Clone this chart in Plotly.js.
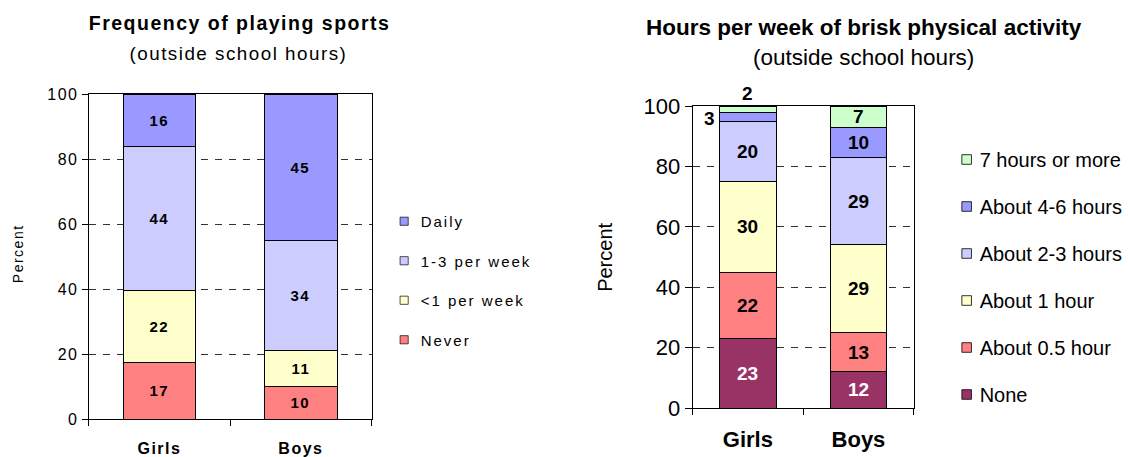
<!DOCTYPE html>
<html>
<head>
<meta charset="utf-8">
<script src="https://cdn.plot.ly/plotly-3.0.1.min.js"></script>
<style>
html,body{margin:0;padding:0;background:#fff;}
#chart{width:1128px;height:457px;}
</style>
</head>
<body>
<div id="chart"></div>
<script>
// ---------- data ----------
const categories = ['Girls', 'Boys'];

// Chart 1: Frequency of playing sports (percent)
const sportSeries = ['Never', '<1 per week', '1-3 per week', 'Daily'];
const sportNever  = [17.3, 10];
const sportLess1  = [22.2, 11];
const sport13     = [44.4, 34];
const sportDaily  = [16.1, 45];
const sportValues = [sportNever, sportLess1, sport13, sportDaily];
const sportColors = ['#FF8080', '#FFFFCC', '#CCCCFF', '#9999FF'];

// Chart 2: Hours per week of brisk physical activity (percent)
const actSeries = ['None', 'About 0.5 hour', 'About 1 hour', 'About 2-3 hours', 'About 4-6 hours', '7 hours or more'];
const actNone   = [23, 12];
const actHalf   = [22, 13];
const actOne    = [30, 29];
const actTwo3   = [20, 29];
const actFour6  = [3, 10];
const actSeven  = [2, 7];
const actValues = [actNone, actHalf, actOne, actTwo3, actFour6, actSeven];
const actColors = ['#993366', '#FF8080', '#FFFFCC', '#CCCCFF', '#9999FF', '#CCFFCC'];

// ---------- helpers ----------
const FONT = 'Liberation Sans, Arial, sans-serif';
const W = 1128, H = 457;
const px = v => v / W;
const py = v => 1 - v / H;

const traces = [];
const annotations = [];

sportSeries.forEach((name, i) => {
  traces.push({
    type: 'bar', name: name, x: categories, y: sportValues[i],
    xaxis: 'x', yaxis: 'y', legend: 'legend', legendgroup: 'a' + i,
    legendrank: sportSeries.length - i,
    marker: {color: sportColors[i], line: {color: '#000', width: 1}},
    textposition: 'none', hoverinfo: 'name+y'
  });
});
actSeries.forEach((name, i) => {
  traces.push({
    type: 'bar', name: name, x: categories, y: actValues[i],
    xaxis: 'x2', yaxis: 'y2', legend: 'legend2', legendgroup: 'b' + i,
    legendrank: actSeries.length - i,
    marker: {color: actColors[i], line: {color: '#000', width: 1}},
    textposition: 'none', hoverinfo: 'name+y'
  });
});

// data labels, left chart
let leftCount = 0;
categories.forEach((c, j) => {
  let base = 0;
  sportValues.forEach((vals, i) => {
    const v = vals[j];
    annotations.push({
      xref: 'x', yref: 'y', x: c, y: base + v / 2, xanchor: 'center', yanchor: 'middle',
      text: '<b>' + Math.round(v) + '</b>',
      showarrow: false, font: {family: FONT, size: 15, color: '#000'}
    });
    leftCount++;
    base += v;
  });
});
annotations.push({xref: 'paper', yref: 'paper', x: px(240), y: py(23), xanchor: 'center', yanchor: 'middle',
  text: '<b>Frequency of playing sports</b>', showarrow: false, font: {family: FONT, size: 19.5, color: '#000'}});
annotations.push({xref: 'paper', yref: 'paper', x: px(239), y: py(53), xanchor: 'center', yanchor: 'middle',
  text: '(outside school hours)', showarrow: false, font: {family: FONT, size: 18.8, color: '#000'}});
annotations.push({xref: 'paper', yref: 'paper', x: px(18), y: py(254), xanchor: 'center', yanchor: 'middle',
  text: 'Percent', textangle: -90, showarrow: false, font: {family: FONT, size: 14, color: '#000'}});
leftCount += 3;

// data labels, right chart
categories.forEach((c, j) => {
  let base = 0;
  actValues.forEach((vals, i) => {
    const v = vals[j];
    const isTop = i === actValues.length - 1;
    const a = {
      xref: 'x2', yref: 'y2', x: c, y: base + v / 2, xanchor: 'center', yanchor: 'middle',
      text: '<b>' + v + '</b>', showarrow: false,
      font: {family: FONT, size: 19, color: i === 0 ? '#fff' : '#000'}
    };
    if (v < 5 && isTop) { a.y = base + v; a.yanchor = 'bottom'; a.yshift = 0; }
    else if (v < 5) { a.xanchor = 'right'; a.xshift = -31; a.yshift = -2; }
    annotations.push(a);
    base += v;
  });
});
annotations.push({xref: 'paper', yref: 'paper', x: px(867), y: py(27), xanchor: 'center', yanchor: 'middle',
  text: '<b>Hours per week of brisk physical activity</b>', showarrow: false, font: {family: FONT, size: 22.5, color: '#000'}});
annotations.push({xref: 'paper', yref: 'paper', x: px(867), y: py(57), xanchor: 'center', yanchor: 'middle',
  text: '(outside school hours)', showarrow: false, font: {family: FONT, size: 22.5, color: '#000'}});
annotations.push({xref: 'paper', yref: 'paper', x: px(607), y: py(257), xanchor: 'center', yanchor: 'middle',
  text: 'Percent', textangle: -90, showarrow: false, font: {family: FONT, size: 20, color: '#000'}});

const xBase = {
  type: 'category', showline: true, linecolor: '#000', linewidth: 1, mirror: true,
  ticks: 'outside', tickson: 'boundaries', ticklen: 6, tickcolor: '#000',
  showgrid: false, zeroline: false, fixedrange: true
};
const yBase = {
  range: [0, 100], dtick: 20, tick0: 0, showline: true, linecolor: '#000', linewidth: 1, mirror: true,
  ticks: 'outside', ticklen: 6, tickcolor: '#000', showgrid: true, gridcolor: '#333', gridwidth: 1,
  griddash: '7px,7px', zeroline: false, fixedrange: true
};

const layout = {
  width: W, height: H, margin: {l: 0, r: 0, t: 0, b: 0},
  paper_bgcolor: '#fff', plot_bgcolor: '#fff',
  barmode: 'stack', bargap: 0.49,
  font: {family: FONT, color: '#000'},
  showlegend: true,
  xaxis: Object.assign({}, xBase, {domain: [px(89), px(373)], anchor: 'y',
    tickfont: {family: FONT, size: 16, weight: 'bold'}, ticklabelstandoff: 15}),
  yaxis: Object.assign({}, yBase, {domain: [py(419), py(94)], anchor: 'x',
    tickfont: {family: FONT, size: 16}}),
  xaxis2: Object.assign({}, xBase, {domain: [px(695), px(917)], anchor: 'y2',
    tickfont: {family: FONT, size: 22, weight: 'bold'}, ticklabelstandoff: 12}),
  yaxis2: Object.assign({}, yBase, {domain: [py(408), py(106)], anchor: 'x2', ticklen: 7,
    tickfont: {family: FONT, size: 22}}),
  legend: {x: px(382), xanchor: 'left', y: py(205), yanchor: 'top', traceorder: 'grouped',
    tracegroupgap: 17, font: {family: FONT, size: 15}, bgcolor: 'rgba(0,0,0,0)', itemclick: false},
  legend2: {x: px(943), xanchor: 'left', y: py(140), yanchor: 'top', traceorder: 'grouped',
    tracegroupgap: 18, font: {family: FONT, size: 20}, bgcolor: 'rgba(0,0,0,0)', itemclick: false},
  annotations: annotations
};

function shrinkSymbols(sel, dx, s) {
  document.querySelectorAll(sel + ' .legendpoints path').forEach(p => {
    const t = p.getAttribute('transform') || '';
    p.setAttribute('transform', t + ' translate(' + dx + ',0) scale(' + s + ')');
  });
}

Plotly.newPlot('chart', traces, layout, {displayModeBar: false, staticPlot: true}).then(() => {
  const root = document.getElementById('chart');
  root.querySelectorAll('.xtick text, .ytick text').forEach(t => t.style.letterSpacing = '1.5px');
  root.querySelectorAll('.legend text').forEach(t => t.style.letterSpacing = '2px');
  root.querySelectorAll('.legend [clip-path], .legend2 [clip-path]').forEach(e => e.removeAttribute('clip-path'));
  shrinkSymbols('.legend', 3.5, 0.68);
  shrinkSymbols('.legend2', 7, 0.8);
  root.querySelectorAll('.annotation').forEach(g => {
    const idx = +g.getAttribute('data-index');
    if (idx < leftCount) g.querySelectorAll('text').forEach(t => t.style.letterSpacing = '1.5px');
  });
});
</script>
</body>
</html>
